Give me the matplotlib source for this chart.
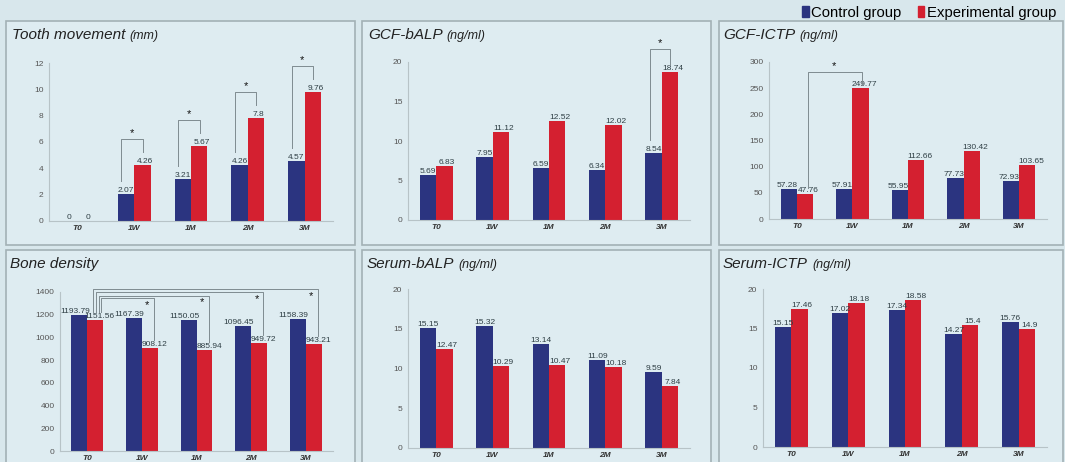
import numpy as np
import matplotlib
matplotlib.use("Agg")
import matplotlib.pyplot as plt
from matplotlib.patches import Rectangle, Patch

plt.rcParams['font.family'] = ['Liberation Sans', 'DejaVu Sans']

# time points
periodos = ["T0", "1W", "1M", "2M", "3M"]

# tooth movement (mm)
diente_ctrl = [0, 2.07, 3.21, 4.26, 4.57]
diente_exp = [0, 4.26, 5.67, 7.8, 9.76]

# GCF-bALP (ng/ml)
gcf_balp_ctrl = [5.69, 7.95, 6.59, 6.34, 8.54]
gcf_balp_exp = [6.83, 11.12, 12.52, 12.02, 18.74]

# GCF-ICTP (ng/ml)
gcf_ictp_ctrl = [57.28, 57.91, 55.95, 77.73, 72.93]
gcf_ictp_exp = [47.76, 249.77, 112.66, 130.42, 103.65]

# bone density
densidad_ctrl = [1193.79, 1167.39, 1150.05, 1096.45, 1158.39]
densidad_exp = [1151.56, 908.12, 885.94, 949.72, 943.21]

# serum-bALP (ng/ml)
suero_balp_ctrl = [15.15, 15.32, 13.14, 11.09, 9.59]
suero_balp_exp = [12.47, 10.29, 10.47, 10.18, 7.84]

# serum-ICTP (ng/ml)
suero_ictp_ctrl = [15.15, 17.02, 17.34, 14.27, 15.76]
suero_ictp_exp = [17.46, 18.18, 18.58, 15.4, 14.9]

W, H = 1065, 462
FONDO = "#d8e7ec"
PANEL = "#deecf1"
BORDE = "#a3b1b5"
AZUL = "#2b3480"
ROJO = "#d42030"
GRIS = "#7f8b90"

fig = plt.figure(figsize=(W / 100, H / 100), dpi=100, facecolor=FONDO)


def caja(x0, y0, x1, y1):
    return [x0 / W, 1 - y1 / H, (x1 - x0) / W, (y1 - y0) / H]


def grafica(marco, area, titulo, unidad, ctrl, exp, ymax, paso, tx, ty,
            dx_ctrl=0.0, dx_exp=0.19):
    r = Rectangle((marco[0], marco[1]), marco[2], marco[3], transform=fig.transFigure,
                  facecolor=PANEL, edgecolor=BORDE, lw=1.2, zorder=-1)
    fig.add_artist(r)
    ax = fig.add_axes(area)
    ax.set_facecolor("none")
    x = np.arange(len(periodos))
    ax.bar(x - 0.145, ctrl, 0.29, color=AZUL, zorder=2)
    ax.bar(x + 0.145, exp, 0.29, color=ROJO, zorder=2)
    for i in range(len(periodos)):
        ax.text(x[i] - 0.145 + dx_ctrl, ctrl[i], f"{ctrl[i]:g}", ha="center", va="bottom",
                fontsize=6, color="#2f3f45", zorder=3)
        ax.text(x[i] + dx_exp, exp[i], f"{exp[i]:g}", ha="center", va="bottom",
                fontsize=6, color="#2f3f45", zorder=3)
    ax.set_xlim(-0.5, 4.5)
    ax.set_ylim(0, ymax)
    ax.set_yticks(np.arange(0, ymax + paso / 2, paso))
    ax.set_xticks(x)
    ax.set_xticklabels(periodos, fontsize=6, fontweight="bold", fontstyle="italic", color="#333333")
    ax.tick_params(axis="y", length=0, pad=4, labelsize=6, labelcolor="#555555")
    ax.tick_params(axis="x", length=0, pad=3)
    for lado in ["top", "right"]:
        ax.spines[lado].set_visible(False)
    for lado in ["left", "bottom"]:
        ax.spines[lado].set_color("#b7c3c7")
        ax.spines[lado].set_linewidth(0.8)
    t = fig.text(tx / W, 1 - ty / H, titulo, fontsize=11, fontstyle="italic",
                 va="baseline", ha="left", color="#222222")
    ax.annotate(unidad, xy=(1, 1 - ty / H), xycoords=(t, "figure fraction"),
                xytext=(3, 0), textcoords="offset points", fontsize=9,
                fontstyle="italic", va="baseline", ha="left", color="#222222",
                annotation_clip=False)
    return ax


def corchete(ax, xl, yl, xr, yr, ytop, sx, sy, va="bottom"):
    ax.plot([xl, xl, xr, xr], [yl, ytop, ytop, yr], color=GRIS, lw=0.7,
            clip_on=False, zorder=4)
    ax.text(sx, sy, "*", ha="center", va=va, fontsize=8, color="#111111",
            clip_on=False, zorder=5)


ax1 = grafica(caja(6, 21, 355, 245), caja(49, 63, 333, 221), "Tooth movement", "(mm)",
              diente_ctrl, diente_exp, 12, 2, 12, 39)
for i in range(1, 5):
    top = diente_exp[i] + 2.0
    corchete(ax1, i - 0.23, diente_ctrl[i] + 1.0, i + 0.15, diente_exp[i] + 1.0,
             top, i - 0.04, top + 0.05)

ax2 = grafica(caja(362, 21, 711, 245), caja(408, 62, 690, 220), "GCF-bALP", "(ng/ml)",
              gcf_balp_ctrl, gcf_balp_exp, 20, 5, 368, 39)
corchete(ax2, 4 - 0.21, gcf_balp_ctrl[4] + 1.6, 4 + 0.15, gcf_balp_exp[4] + 0.9,
         21.6, 3.97, 21.7)

ax3 = grafica(caja(719, 21, 1063, 245), caja(769, 62, 1047, 219), "GCF-ICTP", "(ng/ml)",
              gcf_ictp_ctrl, gcf_ictp_exp, 300, 50, 723, 39, dx_ctrl=-0.03, dx_exp=0.21)
corchete(ax3, 0.2, gcf_ictp_exp[0] + 11, 1.17, gcf_ictp_exp[1] + 6, 281, 0.66, 282)

ax4 = grafica(caja(6, 250, 355, 475), caja(60, 292, 333, 451), "Bone density", "",
              densidad_ctrl, densidad_exp, 1400, 200, 10, 268, dx_ctrl=-0.08, dx_exp=0.23)
alturas = {1: 1344, 2: 1367, 3: 1397, 4: 1423}
izq = {1: 0.25, 2: 0.21, 3: 0.16, 4: 0.11}
for i in range(1, 5):
    corchete(ax4, izq[i], 1226, i + 0.22, densidad_exp[i] + 70, alturas[i],
             i + 0.1, alturas[i] - 12, va="top")

ax5 = grafica(caja(362, 250, 711, 475), caja(408, 289, 690, 448), "Serum-bALP", "(ng/ml)",
              suero_balp_ctrl, suero_balp_exp, 20, 5, 367, 268)

ax6 = grafica(caja(719, 250, 1063, 475), caja(763, 289, 1047, 447), "Serum-ICTP", "(ng/ml)",
              suero_ictp_ctrl, suero_ictp_exp, 20, 5, 723, 268)

fig.legend(handles=[Patch(color=AZUL), Patch(color=ROJO)],
           labels=["Control group", "Experimental group"],
           loc="center right", bbox_to_anchor=(1056 / W, 1 - 13 / H), ncol=2,
           frameon=False, fontsize=10.7, handlelength=0.45, handleheight=0.75,
           handletextpad=0.15, columnspacing=1.1, borderpad=0, borderaxespad=0)

fig.savefig("out.png", dpi=100, facecolor=FONDO)
